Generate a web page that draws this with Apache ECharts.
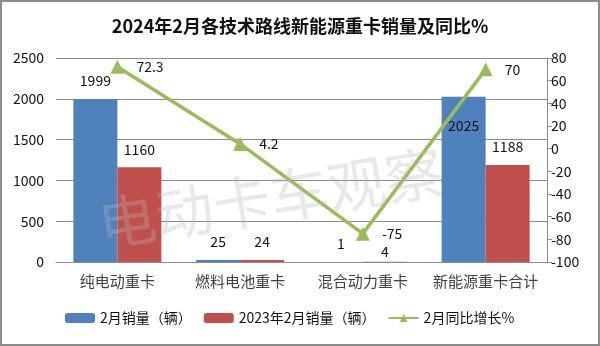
<!DOCTYPE html>
<html>
<head>
<meta charset="utf-8">
<script src="https://cdn.jsdelivr.net/npm/echarts@6/dist/echarts.min.js"></script>
<style>
  html, body { margin: 0; padding: 0; background: #fff; }
  #chart { width: 600px; height: 346px; box-sizing: border-box; border: 2px solid #8c8c8c; }
</style>
</head>
<body>
<div id="chart"></div>
<script>
// Categories and values
const categories = ['纯电动重卡', '燃料电池重卡', '混合动力重卡', '新能源重卡合计'];
const sales2024Feb = [1999, 25, 1, 2025];
const sales2023Feb = [1160, 24, 4, 1188];
const yoyGrowth = [72.3, 4.2, -75, 70];

const seriesNames = ['2月销量（辆）', '2023年2月销量（辆）', '2月同比增长%'];
const titleText = '2024年2月各技术路线新能源重卡销量及同比%';
const watermarkText = '电动卡车观察';

const FONT = '"Noto Sans CJK SC", "Noto Sans", sans-serif';
const chart = echarts.init(document.getElementById('chart'), null, { renderer: 'canvas' });

const labelBase = { show: true, color: '#111', fontSize: 14, fontFamily: FONT };
const plain = v => String(v);

const blueData = sales2024Feb.map((v, i) => {
  if (i === 3) {
    return { value: v, label: { position: 'insideTop', distance: 22 } };
  }
  return v;
});
const redData = sales2023Feb.map((v, i) => {
  if (i === 2) {
    return { value: v, label: { distance: 3 } };
  }
  return v;
});

chart.setOption({
  backgroundColor: '#fff',
  animation: false,
  title: {
    text: titleText,
    left: 'center',
    top: 10,
    textStyle: { fontSize: 18, fontWeight: 'bold', color: '#111', fontFamily: FONT }
  },
  legend: {
    bottom: 14,
    left: 58,
    itemWidth: 30,
    itemHeight: 10,
    itemGap: 12,
    textStyle: { fontSize: 14, color: '#111', fontFamily: FONT },
    data: seriesNames
  },
  grid: { left: 54, right: 51, top: 56, bottom: 82, containLabel: false },
  xAxis: {
    type: 'category',
    data: categories,
    axisLine: { lineStyle: { color: '#8c8c8c', width: 1 } },
    axisTick: { show: false },
    axisLabel: { fontSize: 15, color: '#404040', margin: 12, interval: 0, fontFamily: FONT }
  },
  yAxis: [
    {
      type: 'value',
      min: 0,
      max: 2500,
      interval: 500,
      axisLine: { show: false },
      axisTick: { show: false },
      axisLabel: { fontSize: 14, color: '#111', margin: 12, fontFamily: FONT, formatter: plain },
      splitLine: { lineStyle: { color: '#8c8c8c', width: 1 } }
    },
    {
      type: 'value',
      min: -100,
      max: 80,
      interval: 20,
      position: 'right',
      axisLine: { show: true, lineStyle: { color: '#8c8c8c', width: 1 } },
      axisTick: { show: true, length: 5, lineStyle: { color: '#8c8c8c' } },
      axisLabel: { fontSize: 14, color: '#111', margin: 4, fontFamily: FONT, formatter: plain },
      splitLine: { show: false }
    }
  ],
  series: [
    {
      name: seriesNames[0],
      type: 'bar',
      data: blueData,
      barWidth: 44,
      barGap: '0%',
      itemStyle: { color: '#4F81BD' },
      label: Object.assign({ position: 'top', distance: 11 }, labelBase),
      z: 2
    },
    {
      name: seriesNames[1],
      type: 'bar',
      data: redData,
      barWidth: 44,
      itemStyle: { color: '#C0504D' },
      label: Object.assign({ position: 'top', distance: 11 }, labelBase),
      z: 2
    },
    {
      name: seriesNames[2],
      type: 'line',
      yAxisIndex: 1,
      data: yoyGrowth,
      symbol: 'triangle',
      symbolSize: 14,
      lineStyle: { color: '#9BBB59', width: 3.5 },
      itemStyle: { color: '#9BBB59' },
      label: Object.assign({ position: 'right', distance: 12 }, labelBase),
      z: 3
    }
  ],
  graphic: [
    {
      type: 'text',
      left: 92,
      top: 140,
      rotation: 9 * Math.PI / 180,
      originX: 180,
      originY: 30,
      silent: true,
      z: 10,
      style: {
        text: watermarkText,
        font: '58px ' + FONT,
        fill: 'rgba(185,185,185,0.32)'
      }
    }
  ]
});
</script>
</body>
</html>
